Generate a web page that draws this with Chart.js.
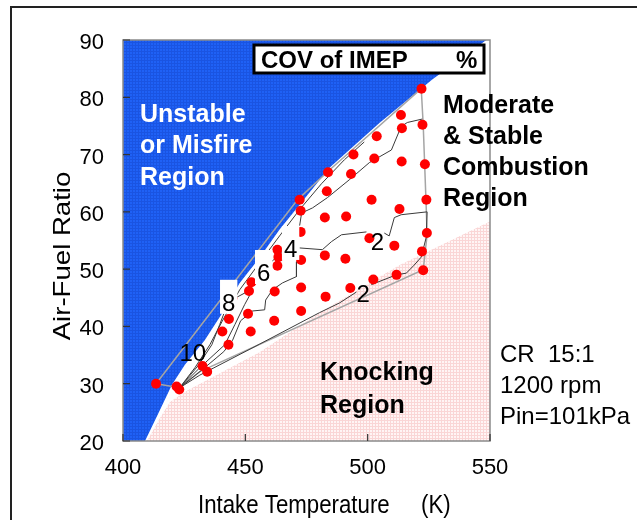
<!DOCTYPE html>
<html>
<head>
  <meta charset="UTF-8">
  <title>COV of IMEP map</title>
  <script src="https://cdn.jsdelivr.net/npm/chart.js"></script>
  <style>
    html, body { margin: 0; padding: 0; background: #fff; }
  </style>
</head>
<body>
<canvas id="map" width="637" height="520"></canvas>
<script>
// axis ticks
const tempTicks = [400, 450, 500, 550];
const afrTicks = [20, 30, 40, 50, 60, 70, 80, 90];

// operating points (intake temperature K / air-fuel ratio)
const pointTemp = [413.5, 421.9, 423.0, 432.5, 434.4, 440.6, 443.1, 443.3, 444.7, 451.1,
  452.2, 451.5, 452.5, 461.8, 462.0, 463.1, 463.5, 463.1, 472.2, 472.6,
  472.6, 472.8, 472.8, 472.8, 483.3, 482.5, 482.5, 482.8, 490.9, 491.2,
  492.9, 493.2, 494.2, 500.7, 501.6, 502.3, 502.7, 503.7, 510.9, 511.8,
  513.0, 513.6, 514.0, 513.9, 522.0, 522.4, 523.4, 524.0, 524.2, 522.2,
  522.7, 483.8];
const pointAfr = [30.0, 29.5, 29.0, 33.1, 32.1, 39.1, 36.8, 41.3, 44.9, 42.2,
  39.1, 46.2, 47.7, 41.0, 46.1, 53.4, 52.1, 50.6, 62.1, 60.2,
  56.5, 51.6, 46.8, 42.7, 63.6, 59.0, 52.4, 45.2, 51.8, 59.2,
  46.7, 66.6, 70.0, 55.4, 62.1, 48.2, 69.3, 73.2, 54.1, 49.0,
  60.5, 76.9, 74.6, 68.8, 81.5, 75.2, 68.3, 62.1, 56.3, 53.1,
  49.8, 66.9];

// region boundaries
const misfireZone = [[400, 20], [400, 90], [548.5, 90], [526.4, 83.1], [504.8, 75.5], [484.4, 67.7],
  [464.0, 56.9], [455.8, 52.0], [447.7, 47.6], [440.4, 42.2], [433.4, 37.6], [425.3, 33.3],
  [420.0, 29.8], [415.1, 25.4], [409.0, 20]];
const knockZone = [[409.8, 20], [415.1, 24.0], [419.2, 26.8], [425.3, 28.6], [455.8, 35.5],
  [480.3, 42.4], [512.9, 50.7], [550, 58.3], [550, 20]];
const mapOutline = [[413.5, 30.0], [471.3, 62.1], [484.4, 67.3], [521.9, 81.5], [522.7, 75.2],
  [523.9, 61.2], [524.3, 56.0], [522.7, 49.9], [431.4, 32.1], [423.2, 29.3], [413.5, 30.0]];

// COV contour pieces (broken where the labels sit)
const cov10 = [[422.8, 29.1], [429.4, 32.8], [435.5, 36.8], [440.4, 40.8], [447.7, 46.4], [455.8, 51.1],
  [464.0, 55.8], [472.2, 60.4], [481.1, 64.9], [490.5, 69.1], [498.6, 72.2]];
const cov8Low = [[422.8, 29.1], [430.6, 33.1], [436.3, 36.8], [439.5, 40.3], [441.2, 42.2]];
const cov8High = [[446.1, 45.0], [450.5, 46.0], [451.8, 47.3], [455.0, 48.3]];
const cov6Low = [[423.2, 29.3], [431.4, 32.8], [441.6, 36.8], [445.7, 40.3], [449.7, 43.8], [453.0, 46.4]];
const cov6Mid = [[460.7, 51.3], [465.2, 53.0]];
const cov6High = [[472.2, 57.6], [473.0, 59.8], [477.5, 60.7], [483.6, 62.5], [492.5, 65.6],
  [500.7, 68.6], [509.7, 70.8], [513.7, 74.9], [516.2, 75.6], [522.3, 76.2]];
const cov4Low = [[470.9, 51.3], [470.9, 48.7], [465.2, 47.6], [461.1, 46.4], [458.3, 44.6], [457.9, 42.9],
  [453.0, 42.7], [448.1, 41.0], [444.8, 37.6], [441.2, 35.6], [433.4, 32.8], [423.2, 29.3]];
const cov4High = [[472.2, 53.7], [481.5, 53.4], [485.2, 54.8], [489.3, 56.0], [499.5, 56.5]];
const cov2Ring = [[506.8, 56.3], [508.8, 55.8], [510.9, 59.0], [513.7, 59.5], [524.3, 60.0], [523.9, 55.5],
  [521.9, 52.1], [519.0, 50.7], [515.8, 49.3], [511.7, 49.0], [501.5, 47.3]];
const cov2Low = [[495.4, 46.0], [488.5, 44.1], [480.3, 42.4], [455.8, 36.9], [431.4, 31.5], [423.2, 29.3]];

// contour labels
const labelText = ['10', '8', '6', '4', '2', '2'];
const labelTemp = [428.5, 443.2, 457.5, 468.5, 504.0, 498.2];
const labelAfr = [35.5, 44.3, 49.5, 53.7, 54.9, 45.9];
const labelBoxed = [false, true, true, true, false, false];

const toXY = arr => arr.map(p => ({ x: p[0], y: p[1] }));
const canvas = document.getElementById('map');
const ctx = canvas.getContext('2d');

function screen(base, line) {
  const c = document.createElement('canvas');
  c.width = c.height = 3;
  const g = c.getContext('2d');
  g.fillStyle = base;
  g.fillRect(0, 0, 3, 3);
  g.fillStyle = line;
  g.fillRect(0, 0, 3, 1);
  g.fillRect(0, 0, 1, 3);
  return ctx.createPattern(c, 'repeat');
}

const zone = (pts, fillStyle) => ({
  data: toXY(pts), fill: 'shape', backgroundColor: fillStyle,
  borderWidth: 0, borderColor: 'rgba(0,0,0,0)', pointRadius: 0, order: 10
});
const contour = (pts, color, width) => ({
  data: toXY(pts), fill: false, borderColor: color, borderWidth: width,
  pointRadius: 0, order: 2
});

const FONT = '"Liberation Sans", Arial, sans-serif';

function put(c, str, x, y, font, color, align, sx) {
  c.save();
  c.font = font;
  c.fillStyle = color;
  c.textAlign = align || 'left';
  c.textBaseline = 'alphabetic';
  c.translate(x, y);
  c.scale(sx || 1, 1);
  c.fillText(str, 0, 0);
  c.restore();
}

const decor = {
  id: 'decor',
  afterDatasetsDraw(chart) {
    const c = chart.ctx, xs = chart.scales.x, ys = chart.scales.y;
    labelText.forEach((t, i) => {
      const px = xs.getPixelForValue(labelTemp[i]);
      const py = ys.getPixelForValue(labelAfr[i]);
      c.save();
      c.font = '24px ' + FONT;
      const w = c.measureText(t).width;
      if (labelBoxed[i]) {
        c.fillStyle = '#fff';
        c.fillRect(px - w / 2 - 2, py - 22, w + 4, 34);
      }
      c.fillStyle = '#000';
      c.textAlign = 'center';
      c.textBaseline = 'alphabetic';
      c.fillText(t, px, py + 9);
      c.restore();
    });
  },
  afterDraw(chart) {
    const c = chart.ctx, a = chart.chartArea, xs = chart.scales.x, ys = chart.scales.y;
    c.save();
    // plot frame
    c.strokeStyle = '#8a8a8a';
    c.lineWidth = 1.5;
    c.strokeRect(a.left, a.top, a.right - a.left, a.bottom - a.top);
    // inward tick marks
    c.strokeStyle = '#333';
    c.lineWidth = 1.2;
    c.beginPath();
    tempTicks.forEach(v => {
      const px = xs.getPixelForValue(v);
      c.moveTo(px, a.bottom); c.lineTo(px, a.bottom - 7);
    });
    afrTicks.forEach(v => {
      const py = ys.getPixelForValue(v);
      c.moveTo(a.left, py); c.lineTo(a.left + 7, py);
    });
    c.stroke();
    // outer frame
    c.strokeStyle = '#222';
    c.lineWidth = 2;
    c.beginPath();
    c.moveTo(11, 520); c.lineTo(11, 7); c.lineTo(637, 7);
    c.stroke();

    // legend box
    c.fillStyle = '#fff';
    c.fillRect(254, 45, 230, 28);
    c.strokeStyle = '#000';
    c.lineWidth = 3;
    c.strokeRect(254, 45, 230, 28);
    put(c, 'COV of IMEP', 261, 68, 'bold 24px ' + FONT, '#000');
    put(c, '%', 456, 68, 'bold 24px ' + FONT, '#000');

    // region notes
    const bold = 'bold 25px ' + FONT;
    put(c, 'Unstable', 140, 122, bold, '#fff');
    put(c, 'or Misfire', 140, 153, bold, '#fff');
    put(c, 'Region', 140, 185, bold, '#fff');
    put(c, 'Moderate', 443, 113, bold, '#000');
    put(c, '& Stable', 443, 144, bold, '#000');
    put(c, 'Combustion', 443, 175, bold, '#000');
    put(c, 'Region', 443, 206, bold, '#000');
    put(c, 'Knocking', 320, 380, bold, '#000');
    put(c, 'Region', 320, 413, bold, '#000');

    // engine conditions
    const reg = '24px ' + FONT;
    put(c, 'CR  15:1', 500, 362, reg, '#000');
    put(c, '1200 rpm', 500, 393, reg, '#000');
    put(c, 'Pin=101kPa', 500, 424, reg, '#000');

    // axis titles
    put(c, 'Intake Temperature', 198, 513, '25px ' + FONT, '#000', 'left', 0.89);
    put(c, '(K)', 421, 513, '25px ' + FONT, '#000', 'left', 0.89);
    c.translate(70, 256);
    c.rotate(-Math.PI / 2);
    put(c, 'Air-Fuel Ratio', 0, 0, '24px ' + FONT, '#000', 'center', 1.15);
    c.restore();
  }
};

const blueScreen = screen('#1f61f6', '#1a54e2');
const pinkScreen = screen('#fff5f5', '#fad6d6');

new Chart(ctx, {
  type: 'line',
  data: {
    datasets: [
      {
        data: pointTemp.map((t, i) => ({ x: t, y: pointAfr[i] })),
        showLine: false, pointRadius: 5, pointHoverRadius: 5,
        pointBackgroundColor: '#ff0000', pointBorderWidth: 0, order: 0
      },
      contour(cov10, '#3a3a3a', 1),
      contour(cov8Low, '#3a3a3a', 1),
      contour(cov8High, '#3a3a3a', 1),
      contour(cov6Low, '#3a3a3a', 1),
      contour(cov6Mid, '#3a3a3a', 1),
      contour(cov6High, '#3a3a3a', 1),
      contour(cov4Low, '#3a3a3a', 1),
      contour(cov4High, '#3a3a3a', 1),
      contour(cov2Ring, '#3a3a3a', 1),
      contour(cov2Low, '#3a3a3a', 1),
      contour(mapOutline, '#a5a5a5', 1.5),
      zone(misfireZone, blueScreen),
      zone(knockZone, pinkScreen)
    ]
  },
  options: {
    responsive: false,
    animation: false,
    events: [],
    layout: { padding: { top: 40, right: 147, left: 0, bottom: 0 } },
    elements: { line: { tension: 0 } },
    plugins: { legend: { display: false }, tooltip: { enabled: false } },
    scales: {
      x: {
        type: 'linear', min: 400, max: 550,
        afterBuildTicks: s => { s.ticks = tempTicks.map(v => ({ value: v })); },
        afterFit: s => { s.height = 79; },
        grid: { display: false, drawTicks: false },
        border: { display: false },
        ticks: { padding: 14, color: '#000', font: { family: FONT, size: 22 } }
      },
      y: {
        type: 'linear', min: 20, max: 90,
        afterBuildTicks: s => { s.ticks = afrTicks.map(v => ({ value: v })); },
        afterFit: s => { s.width = 123; },
        grid: { display: false, drawTicks: false },
        border: { display: false },
        ticks: { padding: 19, labelOffset: 3, color: '#000', font: { family: FONT, size: 22 } }
      }
    }
  },
  plugins: [decor]
});
</script>
</body>
</html>
